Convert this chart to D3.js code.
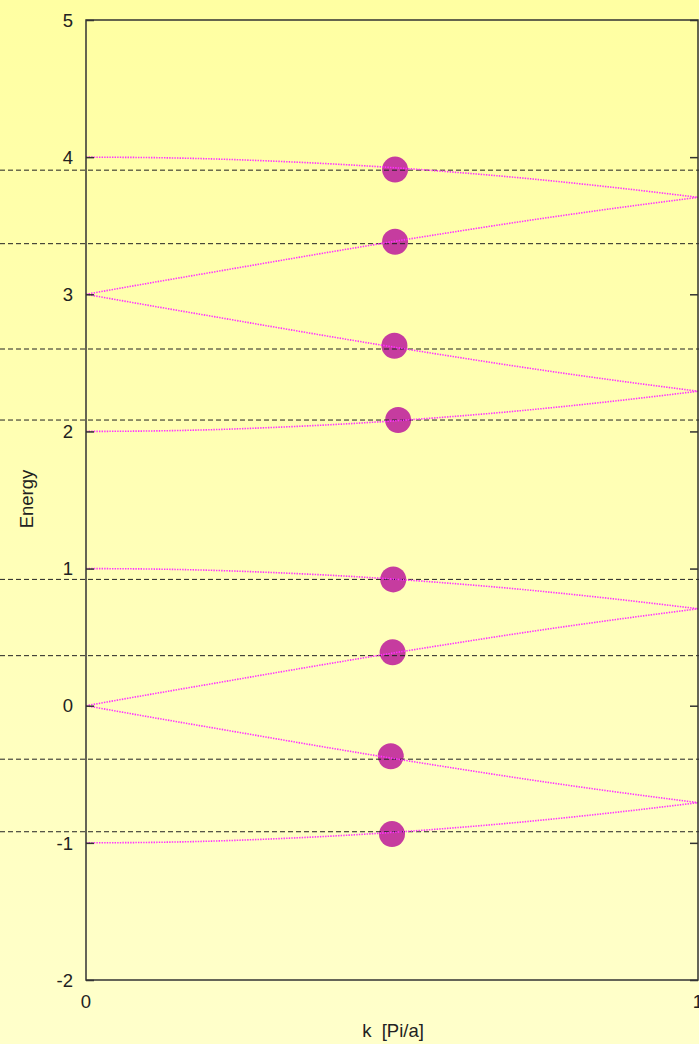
<!DOCTYPE html>
<html><head><meta charset="utf-8">
<script src="https://cdn.jsdelivr.net/npm/d3@7/dist/d3.min.js"></script>
<style>html,body{margin:0;padding:0;overflow:hidden;background:#ffffb5}</style>
</head><body>
<script>
const kValues = [0, 0.1, 0.2, 0.3, 0.4, 0.5, 0.6, 0.7, 0.8, 0.9, 1.0];
const band1 = [-1.000, -0.997, -0.988, -0.972, -0.951, -0.924, -0.891, -0.853, -0.809, -0.760, -0.707];
const band2 = [0.000, -0.079, -0.156, -0.233, -0.309, -0.383, -0.454, -0.523, -0.588, -0.649, -0.707];
const band3 = [0.000, 0.079, 0.156, 0.233, 0.309, 0.383, 0.454, 0.523, 0.588, 0.649, 0.707];
const band4 = [1.000, 0.997, 0.988, 0.972, 0.951, 0.924, 0.891, 0.853, 0.809, 0.760, 0.707];
const band5 = [2.000, 2.003, 2.012, 2.028, 2.049, 2.076, 2.109, 2.147, 2.191, 2.240, 2.293];
const band6 = [3.000, 2.921, 2.844, 2.767, 2.691, 2.617, 2.546, 2.477, 2.412, 2.351, 2.293];
const band7 = [3.000, 3.079, 3.156, 3.233, 3.309, 3.383, 3.454, 3.523, 3.588, 3.649, 3.707];
const band8 = [4.000, 3.997, 3.988, 3.972, 3.951, 3.924, 3.891, 3.853, 3.809, 3.760, 3.707];
const bands = [band1, band2, band3, band4, band5, band6, band7, band8];

const levelEnergies = [3.905, 3.369, 2.601, 2.083, 0.921, 0.365, -0.390, -0.919];
const dotK = [0.505, 0.505, 0.504, 0.510, 0.502, 0.501, 0.498, 0.500];
const dotE = [3.909, 3.383, 2.625, 2.083, 0.921, 0.389, -0.368, -0.936];

const yTicks = [5, 4, 3, 2, 1, 0, -1, -2];
const xTicks = [0, 1];

const W = 699, H = 1044;
const svg = d3.select("body").append("svg").attr("width", W).attr("height", H);

const defs = svg.append("defs");
const grad = defs.append("linearGradient").attr("id", "bg").attr("x1", 0).attr("y1", 0).attr("x2", 0).attr("y2", 1);
grad.append("stop").attr("offset", "0%").attr("stop-color", "#ffffa2");
grad.append("stop").attr("offset", "100%").attr("stop-color", "#ffffcb");
svg.append("rect").attr("width", W).attr("height", H).attr("fill", "url(#bg)");

const x = d3.scaleLinear().domain([0, 1]).range([86, 698]);
const y = d3.scaleLinear().domain([-2, 5]).range([980, 20]);

const font = "'Liberation Sans', Arial, Helvetica, sans-serif";

// dots
svg.append("g").selectAll("circle").data(dotK).join("circle")
  .attr("cx", (d, i) => x(d)).attr("cy", (d, i) => y(dotE[i])).attr("r", 13)
  .attr("fill", "#c63c9f");

// dashed levels
svg.append("g").selectAll("line").data(levelEnergies).join("line")
  .attr("x1", 0).attr("x2", W).attr("y1", d => y(d)).attr("y2", d => y(d))
  .attr("stroke", "#222").attr("stroke-width", 1).attr("stroke-dasharray", "5,3");

// bands
const line = d3.line().x((d, i) => x(kValues[i])).y(d => y(d)).curve(d3.curveNatural);
svg.append("g").selectAll("path").data(bands).join("path")
  .attr("d", line).attr("fill", "none").attr("stroke", "#ff30ff")
  .attr("stroke-width", 1.6).attr("stroke-dasharray", "1.4,1.2");

// frame
svg.append("rect").attr("x", x(0)).attr("y", y(5)).attr("width", x(1) - x(0)).attr("height", y(-2) - y(5))
  .attr("fill", "none").attr("stroke", "#333").attr("stroke-width", 1.5);

// y axes (left and right, inward ticks)
const yAxisL = d3.axisRight(y).tickValues(yTicks).tickSize(8).tickFormat("");
const gl = svg.append("g").attr("transform", `translate(${x(0)},0)`).call(yAxisL);
gl.select(".domain").remove();
gl.selectAll(".tick line").attr("stroke", "#333").attr("stroke-width", 1.5);
const yAxisR = d3.axisLeft(y).tickValues(yTicks).tickSize(8).tickFormat("");
const gr = svg.append("g").attr("transform", `translate(${x(1)},0)`).call(yAxisR);
gr.select(".domain").remove();
gr.selectAll(".tick line").attr("stroke", "#333").attr("stroke-width", 1.5);

// y tick labels
svg.append("g").selectAll("text").data(yTicks).join("text")
  .attr("x", 73).attr("y", d => y(d)).attr("dy", "0.36em")
  .attr("text-anchor", "end").attr("font-family", font).attr("font-size", 18.5).attr("fill", "#222")
  .text(d => d);

// x tick labels
svg.append("g").selectAll("text").data(xTicks).join("text")
  .attr("x", d => x(d)).attr("y", 1008)
  .attr("text-anchor", "middle").attr("font-family", font).attr("font-size", 18.5).attr("fill", "#222")
  .text(d => d);

// axis titles
svg.append("text").attr("x", 393).attr("y", 1037).attr("text-anchor", "middle")
  .attr("font-family", font).attr("font-size", 18.5).attr("fill", "#222").attr("xml:space", "preserve")
  .text("k  [Pi/a]");
svg.append("text").attr("transform", "translate(33,499) rotate(-90)").attr("text-anchor", "middle")
  .attr("font-family", font).attr("font-size", 18.5).attr("fill", "#222")
  .text("Energy");
</script>
</body></html>
